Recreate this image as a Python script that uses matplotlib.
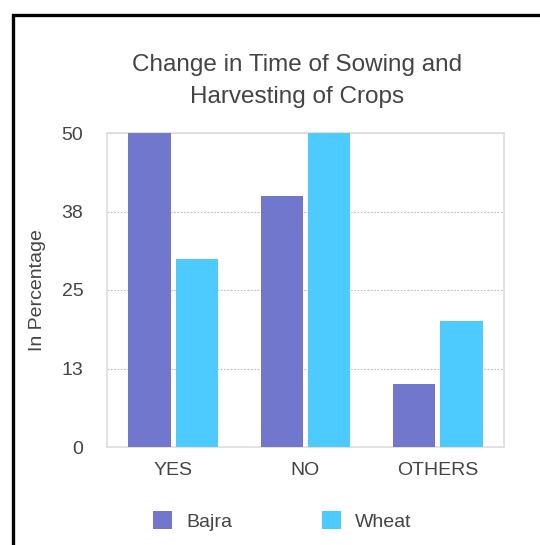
import matplotlib
matplotlib.use("Agg")
import matplotlib.pyplot as plt
import numpy as np
from matplotlib.patches import Rectangle

categories = ["YES", "NO", "OTHERS"]
bajra = [50, 40, 10]
wheat = [30, 50, 20]
y_ticks = [0, 12.5, 25, 37.5, 50]
y_tick_labels = ["0", "13", "25", "38", "50"]

plt.rcParams["font.family"] = ["Liberation Sans", "DejaVu Sans"]
TXT = "#444444"

W, H = 540, 545
fig = plt.figure(figsize=(W / 100, H / 100), dpi=100)

# outer frame (runs off the right and bottom edges)
fig.patches.append(Rectangle((13 / W, -0.1), 1.2, 1 - 15 / H + 0.1,
                             transform=fig.transFigure, fill=False,
                             edgecolor="black", linewidth=2.4, zorder=0))

left, right, top, bottom = 107, 504, 133, 447
ax = fig.add_axes([left / W, 1 - bottom / H, (right - left) / W, (bottom - top) / H])

x = np.arange(len(categories))
bw = 0.32
gap = 0.02
ax.bar(x - bw / 2 - gap, bajra, bw, color="#7077cc", label="Bajra", zorder=3)
ax.bar(x + bw / 2 + gap, wheat, bw, color="#4dcbff", label="Wheat", zorder=3)

ax.set_xlim(-0.5, 2.5)
ax.set_ylim(0, 50)
ax.set_yticks(y_ticks)
ax.set_yticklabels(y_tick_labels)
ax.set_xticks(x)
ax.set_xticklabels(categories)
ax.tick_params(axis="both", length=0, labelsize=14, labelcolor=TXT)
ax.tick_params(axis="y", pad=17)
ax.tick_params(axis="x", pad=10.5)
for s in ax.spines.values():
    s.set_color("#dddddd")
    s.set_linewidth(1.2)
ax.yaxis.grid(True, linestyle=(0, (1.5, 1.5)), color="#bbbbbb", linewidth=0.8, zorder=0)

fig.text(37 / W, 1 - 290 / H, "In Percentage", rotation=90, ha="center", va="center",
         fontsize=14, color=TXT)

fig.text(297 / W, 1 - 65 / H, "Change in Time of Sowing and",
         ha="center", va="center", fontsize=17.5, color=TXT)
fig.text(297 / W, 1 - 97 / H, "Harvesting of Crops",
         ha="center", va="center", fontsize=17.5, color=TXT)

ax.legend(loc="center left", bbox_to_anchor=(153 / W, 1 - 521 / H),
          bbox_transform=fig.transFigure, ncol=2, frameon=False,
          fontsize=14, handlelength=1.0, handleheight=1.0, columnspacing=4.6,
          handletextpad=0.72, borderpad=0, borderaxespad=0, labelcolor=TXT)

fig.savefig("out.png", dpi=100)
